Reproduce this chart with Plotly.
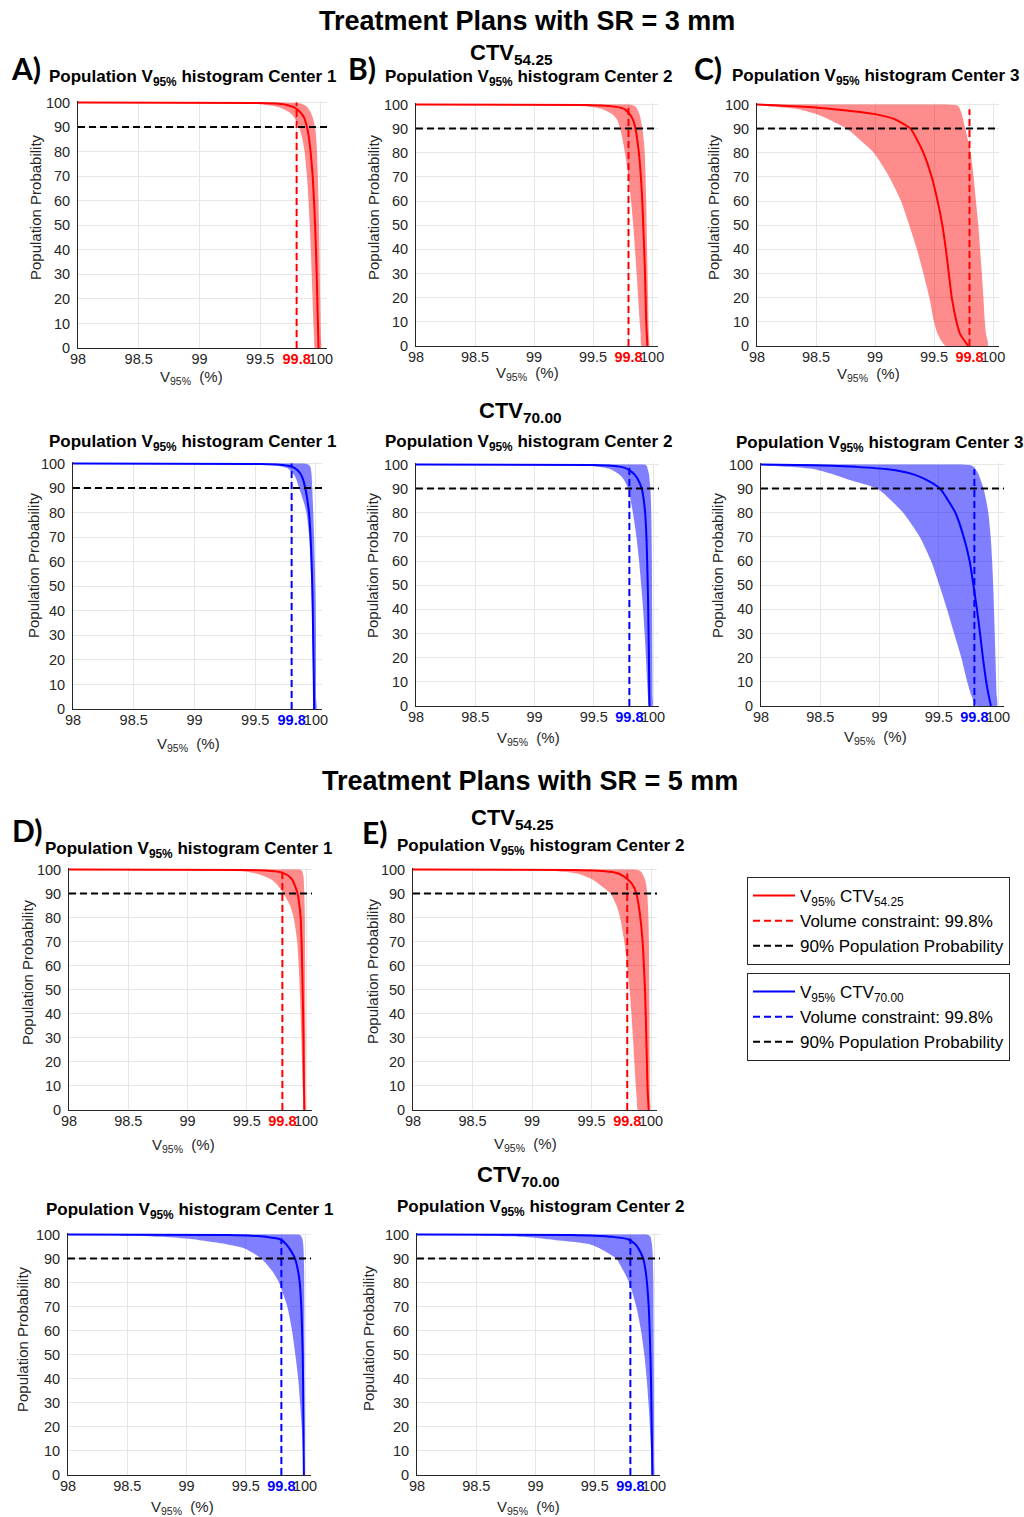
import plotly.graph_objects as go

W, H = 1024, 1517
FONT = "Liberation Sans, Arial, sans-serif"

# ---------------- data ----------------
# Population probability levels (%) at which each curve's V95% value is read
PROB = [100, 99.8, 99.5, 99, 98, 96, 94, 90, 85, 80, 70, 60, 50, 40, 30, 20, 10, 5, 0]

X_RANGE = [98, 100.05]
X_TICKS = [98, 98.5, 99, 99.5, 99.8, 100]
X_TICK_LABELS = ["98", "98.5", "99", "99.5", "99.8", "100"]
Y_TICKS = [0, 10, 20, 30, 40, 50, 60, 70, 80, 90, 100]
VOLUME_CONSTRAINT = 99.8
TARGET_PROBABILITY = 90

# SR = 3 mm, CTV54.25
sr3_ctv54_c1_median = [98, 99.5, 99.65, 99.72, 99.78, 99.83, 99.86, 99.885, 99.903, 99.915, 99.932, 99.943, 99.952, 99.959, 99.965, 99.97, 99.975, 99.978, 99.98]
sr3_ctv54_c1_lower = [98, 99.2, 99.42, 99.56, 99.66, 99.74, 99.78, 99.82, 99.848, 99.865, 99.885, 99.898, 99.908, 99.917, 99.924, 99.931, 99.938, 99.944, 99.95]
sr3_ctv54_c1_upper = [99.65, 99.8, 99.84, 99.865, 99.89, 99.915, 99.932, 99.952, 99.962, 99.968, 99.975, 99.98, 99.985, 99.988, 99.991, 99.994, 99.997, 99.999, 100]

sr3_ctv54_c2_median = [98, 99.45, 99.6, 99.7, 99.77, 99.81, 99.835, 99.86, 99.875, 99.888, 99.905, 99.917, 99.925, 99.933, 99.94, 99.945, 99.95, 99.955, 99.96]
sr3_ctv54_c2_lower = [98, 99.2, 99.35, 99.48, 99.58, 99.66, 99.7, 99.73, 99.752, 99.77, 99.8, 99.822, 99.84, 99.855, 99.869, 99.882, 99.895, 99.903, 99.91]
sr3_ctv54_c2_upper = [99.8, 99.83, 99.848, 99.862, 99.875, 99.892, 99.903, 99.918, 99.93, 99.938, 99.945, 99.95, 99.954, 99.958, 99.962, 99.966, 99.97, 99.972, 99.975]

sr3_ctv54_c3_median = [98, 98.1, 98.22, 98.4, 98.65, 99.0, 99.16, 99.3, 99.36, 99.41, 99.48, 99.53, 99.57, 99.6, 99.625, 99.65, 99.69, 99.72, 99.79]
sr3_ctv54_c3_lower = [97.9, 97.95, 98.05, 98.15, 98.35, 98.5, 98.6, 98.76, 98.88, 98.99, 99.12, 99.22, 99.29, 99.355, 99.41, 99.46, 99.5, 99.53, 99.6]
sr3_ctv54_c3_upper = [99.6, 99.68, 99.7, 99.71, 99.72, 99.735, 99.745, 99.765, 99.788, 99.81, 99.835, 99.855, 99.875, 99.89, 99.905, 99.918, 99.93, 99.94, 99.955]

# SR = 3 mm, CTV70.00
sr3_ctv70_c1_median = [98, 99.55, 99.7, 99.78, 99.83, 99.87, 99.89, 99.912, 99.93, 99.943, 99.956, 99.964, 99.97, 99.974, 99.977, 99.98, 99.983, 99.984, 99.985]
sr3_ctv70_c1_lower = [98, 99.45, 99.6, 99.7, 99.77, 99.81, 99.835, 99.862, 99.895, 99.922, 99.945, 99.956, 99.963, 99.968, 99.972, 99.975, 99.978, 99.979, 99.98]
sr3_ctv70_c1_upper = [99.9, 99.925, 99.94, 99.95, 99.958, 99.963, 99.966, 99.97, 99.974, 99.978, 99.985, 99.99, 99.995, 99.998, 100, 100, 100, 100, 100.005]

sr3_ctv70_c2_median = [98, 99.5, 99.65, 99.73, 99.79, 99.84, 99.87, 99.905, 99.922, 99.933, 99.944, 99.95, 99.955, 99.959, 99.962, 99.965, 99.967, 99.968, 99.97]
sr3_ctv70_c2_lower = [98, 99.3, 99.45, 99.55, 99.64, 99.71, 99.75, 99.79, 99.812, 99.83, 99.86, 99.882, 99.9, 99.916, 99.929, 99.94, 99.95, 99.956, 99.965]
sr3_ctv70_c2_upper = [99.92, 99.94, 99.945, 99.95, 99.955, 99.965, 99.97, 99.978, 99.982, 99.985, 99.988, 99.99, 99.991, 99.992, 99.993, 99.994, 99.995, 99.995, 99.995]

sr3_ctv70_c3_median = [98, 98.3, 98.6, 98.8, 99.07, 99.28, 99.38, 99.51, 99.58, 99.64, 99.71, 99.76, 99.792, 99.822, 99.848, 99.872, 99.9, 99.918, 99.94]
sr3_ctv70_c3_lower = [97.9, 97.95, 98.05, 98.25, 98.45, 98.6, 98.72, 98.98, 99.1, 99.2, 99.34, 99.435, 99.505, 99.57, 99.63, 99.69, 99.74, 99.77, 99.82]
sr3_ctv70_c3_upper = [99.7, 99.76, 99.78, 99.795, 99.81, 99.835, 99.85, 99.878, 99.9, 99.918, 99.938, 99.95, 99.959, 99.966, 99.972, 99.978, 99.984, 99.987, 99.99]

# SR = 5 mm, CTV54.25
sr5_ctv54_c1_median = [98, 99.5, 99.68, 99.77, 99.83, 99.88, 99.9, 99.928, 99.944, 99.954, 99.962, 99.967, 99.971, 99.975, 99.978, 99.98, 99.982, 99.984, 99.985]
sr5_ctv54_c1_lower = [98, 99.2, 99.38, 99.5, 99.6, 99.7, 99.75, 99.81, 99.865, 99.895, 99.925, 99.938, 99.947, 99.954, 99.96, 99.966, 99.972, 99.976, 99.98]
sr5_ctv54_c1_upper = [99.94, 99.955, 99.965, 99.97, 99.975, 99.98, 99.982, 99.985, 99.988, 99.99, 99.991, 99.992, 99.993, 99.994, 99.995, 99.995, 99.995, 99.995, 99.995]

sr5_ctv54_c2_median = [98, 99.35, 99.55, 99.66, 99.74, 99.8, 99.84, 99.877, 99.896, 99.91, 99.929, 99.94, 99.949, 99.955, 99.96, 99.965, 99.97, 99.975, 99.98]
sr5_ctv54_c2_lower = [98, 99.0, 99.15, 99.28, 99.4, 99.5, 99.56, 99.66, 99.71, 99.74, 99.775, 99.8, 99.82, 99.835, 99.848, 99.86, 99.872, 99.88, 99.89]
sr5_ctv54_c2_upper = [99.86, 99.89, 99.905, 99.918, 99.93, 99.948, 99.958, 99.968, 99.974, 99.978, 99.982, 99.984, 99.985, 99.987, 99.988, 99.989, 99.99, 99.99, 99.99]

# SR = 5 mm, CTV70.00
sr5_ctv70_c1_median = [98, 99.35, 99.55, 99.67, 99.79, 99.84, 99.87, 99.915, 99.94, 99.955, 99.968, 99.975, 99.98, 99.983, 99.985, 99.987, 99.988, 99.989, 99.99]
sr5_ctv70_c1_lower = [98, 98.3, 98.5, 98.8, 99.05, 99.33, 99.5, 99.63, 99.72, 99.78, 99.85, 99.89, 99.918, 99.942, 99.958, 99.972, 99.982, 99.986, 99.99]
sr5_ctv70_c1_upper = [99.94, 99.955, 99.965, 99.97, 99.978, 99.984, 99.987, 99.99, 99.992, 99.993, 99.994, 99.994, 99.995, 99.995, 99.995, 99.995, 99.995, 99.995, 99.995]

sr5_ctv70_c2_median = [98, 99.3, 99.5, 99.65, 99.78, 99.84, 99.87, 99.908, 99.928, 99.94, 99.955, 99.963, 99.969, 99.974, 99.977, 99.98, 99.983, 99.984, 99.985]
sr5_ctv70_c2_lower = [98.1, 98.4, 98.6, 98.9, 99.1, 99.45, 99.55, 99.68, 99.74, 99.79, 99.85, 99.89, 99.918, 99.938, 99.953, 99.965, 99.975, 99.98, 99.985]
sr5_ctv70_c2_upper = [99.93, 99.95, 99.96, 99.97, 99.975, 99.982, 99.986, 99.99, 99.992, 99.994, 99.995, 99.996, 99.997, 99.998, 99.999, 100, 100, 100, 100]

# height reached by the dashed volume-constraint marker in each panel
CONSTRAINT_TOP = [100, 98.6, 98, 100, 99, 98, 99, 98.3, 98.3, 98.3]
CENTERS = [1, 2, 3, 1, 2, 3, 1, 2, 1, 2]

# ---------------- styling / layout ----------------
RED, BLUE = "#FF0000", "#0000FF"
RED_FILL, BLUE_FILL = "rgba(255,0,0,0.45)", "rgba(0,0,255,0.5)"
DASH = "7px,4px"

PANELS = [
    (sr3_ctv54_c1_median, sr3_ctv54_c1_lower, sr3_ctv54_c1_upper, "ctv54"),
    (sr3_ctv54_c2_median, sr3_ctv54_c2_lower, sr3_ctv54_c2_upper, "ctv54"),
    (sr3_ctv54_c3_median, sr3_ctv54_c3_lower, sr3_ctv54_c3_upper, "ctv54"),
    (sr3_ctv70_c1_median, sr3_ctv70_c1_lower, sr3_ctv70_c1_upper, "ctv70"),
    (sr3_ctv70_c2_median, sr3_ctv70_c2_lower, sr3_ctv70_c2_upper, "ctv70"),
    (sr3_ctv70_c3_median, sr3_ctv70_c3_lower, sr3_ctv70_c3_upper, "ctv70"),
    (sr5_ctv54_c1_median, sr5_ctv54_c1_lower, sr5_ctv54_c1_upper, "ctv54"),
    (sr5_ctv54_c2_median, sr5_ctv54_c2_lower, sr5_ctv54_c2_upper, "ctv54"),
    (sr5_ctv70_c1_median, sr5_ctv70_c1_lower, sr5_ctv70_c1_upper, "ctv70"),
    (sr5_ctv70_c2_median, sr5_ctv70_c2_lower, sr5_ctv70_c2_upper, "ctv70"),
]

# plot-area boxes in pixels: left, right, top, bottom
BOXES = [
    (78, 327, 101, 348), (416, 658, 103, 346), (757, 999, 103, 346),
    (73, 322, 462, 709), (416, 659, 463, 706), (761, 1004, 463, 706),
    (69, 312, 868, 1110), (413, 657, 868, 1110),
    (68, 311, 1233, 1475), (417, 660, 1233, 1475),
]
TITLE_POS = [(192, 78), (528, 78), (875, 77), (192, 443), (528, 443), (879, 444),
             (188, 850), (540, 847), (189, 1211), (540, 1208)]
YTITLE_POS = [(35, 207), (373, 207), (713, 207), (33, 565), (372, 565), (717, 565),
              (27, 972), (372, 971), (22, 1339), (368, 1338)]
XTITLE_POS = [(191, 377), (527, 373), (868, 375), (188, 744), (528, 739), (875, 737),
              (183, 1145), (525, 1144), (182, 1507), (528, 1507)]


def px(x):
    return x / W


def py(y):
    return 1 - y / H


fig = go.Figure()
layout_axes = {}
annotations = []
SMOOTH = dict(shape="spline", smoothing=0.6)

for i, (med, lo, hi, ctv) in enumerate(PANELS):
    n = "" if i == 0 else str(i + 1)
    xa, ya = "x" + n, "y" + n
    color = RED if ctv == "ctv54" else BLUE
    fill = RED_FILL if ctv == "ctv54" else BLUE_FILL
    leg = "legend" if ctv == "ctv54" else "legend2"
    show = i in (0, 3)
    sub = "54.25" if ctv == "ctv54" else "70.00"

    fig.add_trace(go.Scatter(
        x=lo + hi[::-1], y=PROB + PROB[::-1], fill="toself", fillcolor=fill,
        mode="lines", line=dict(width=0, **SMOOTH),
        showlegend=False, hoverinfo="skip", xaxis=xa, yaxis=ya))
    fig.add_trace(go.Scatter(
        x=med, y=PROB, mode="lines", line=dict(color=color, width=2, **SMOOTH),
        name=f"V<sub>95%</sub> CTV<sub>{sub}</sub>", legend=leg, showlegend=show,
        xaxis=xa, yaxis=ya))
    fig.add_trace(go.Scatter(
        x=[VOLUME_CONSTRAINT, VOLUME_CONSTRAINT], y=[0, CONSTRAINT_TOP[i]], mode="lines",
        line=dict(color=color, width=2, dash=DASH),
        name=f"Volume constraint: {VOLUME_CONSTRAINT}%", legend=leg, showlegend=show,
        xaxis=xa, yaxis=ya))
    fig.add_trace(go.Scatter(
        x=X_RANGE, y=[TARGET_PROBABILITY, TARGET_PROBABILITY], mode="lines",
        line=dict(color="black", width=2, dash=DASH),
        name=f"{TARGET_PROBABILITY}% Population Probability", legend=leg, showlegend=show,
        xaxis=xa, yaxis=ya))

    l, r, t, b = BOXES[i]
    ticktext = [
        (f"<b><span style='color:{color}'>{lab}</span></b>" if v == VOLUME_CONSTRAINT else lab)
        for v, lab in zip(X_TICKS, X_TICK_LABELS)
    ]
    layout_axes["xaxis" + n] = dict(
        domain=[px(l), px(r)], anchor=ya, range=X_RANGE, tickvals=X_TICKS, ticktext=ticktext,
        tickangle=0, automargin=False,
        showgrid=True, gridcolor="#E6E6E6", gridwidth=1, zeroline=False,
        showline=True, linecolor="#262626", linewidth=1, ticks="",
        tickfont=dict(size=14.5, family=FONT, color="#262626"), ticklabelstandoff=-2)
    layout_axes["yaxis" + n] = dict(
        domain=[py(b), py(t)], anchor=xa, range=[0, 100.6], tickvals=Y_TICKS,
        automargin=False,
        showgrid=True, gridcolor="#E6E6E6", gridwidth=1, zeroline=False,
        showline=True, linecolor="#262626", linewidth=1, ticks="",
        tickfont=dict(size=14.5, family=FONT, color="#262626"), ticklabelstandoff=4)

    tx, ty = TITLE_POS[i]
    annotations.append(dict(
        x=px(tx), y=py(ty), xref="paper", yref="paper", xanchor="center", yanchor="middle",
        text=f"<b>Population V<sub>95%</sub> histogram Center {CENTERS[i]}</b>",
        showarrow=False, font=dict(size=17, family=FONT, color="black")))
    yx, yy = YTITLE_POS[i]
    annotations.append(dict(
        x=px(yx), y=py(yy), xref="paper", yref="paper", xanchor="center", yanchor="middle",
        text="Population Probability", textangle=-90, showarrow=False,
        font=dict(size=15, family=FONT, color="#262626")))
    xx, xy = XTITLE_POS[i]
    annotations.append(dict(
        x=px(xx), y=py(xy), xref="paper", yref="paper", xanchor="center", yanchor="middle",
        text="V<sub>95%</sub>\u00a0\u00a0(%)", showarrow=False,
        font=dict(size=15, family=FONT, color="#262626")))

# section headers
for text, x, y, size in [
    ("<b>Treatment Plans with SR = 3 mm</b>", 527, 21, 27),
    ("<b>Treatment Plans with SR = 5 mm</b>", 530, 781, 27),
    ("<b>CTV<sub>54.25</sub></b>", 511, 54, 22),
    ("<b>CTV<sub>70.00</sub></b>", 520, 412, 22),
    ("<b>CTV<sub>54.25</sub></b>", 512, 819, 22),
    ("<b>CTV<sub>70.00</sub></b>", 518, 1176, 22),
]:
    annotations.append(dict(
        x=px(x), y=py(y), xref="paper", yref="paper", xanchor="center", yanchor="middle",
        text=text, showarrow=False, font=dict(size=size, family=FONT, color="black")))

for text, x, y in [("A)", 26, 68), ("B)", 362, 68), ("C)", 708, 68), ("D)", 27, 830), ("E)", 375, 832)]:
    annotations.append(dict(
        x=px(x), y=py(y), xref="paper", yref="paper", xanchor="center", yanchor="middle",
        text=f"<b>{text}</b>", showarrow=False, font=dict(size=30, family="Lato, " + FONT, color="black")))

legend_style = dict(
    xanchor="left", yanchor="top", bordercolor="#262626", borderwidth=1, bgcolor="white",
    font=dict(size=17, family=FONT, color="black"), tracegroupgap=0, itemwidth=42)

fig.update_layout(
    width=W, height=H, autosize=False,
    margin=dict(l=0, r=0, t=0, b=0, pad=0, autoexpand=False),
    paper_bgcolor="white", plot_bgcolor="white",
    font=dict(family=FONT, color="#262626"),
    annotations=annotations,
    legend=dict(x=px(747), y=py(877), **legend_style),
    legend2=dict(x=px(747), y=py(973), **legend_style),
    **layout_axes,
)

fig.write_html(
    "out.html",
    config={"displayModeBar": False},
    post_script="document.body.style.margin='0px';document.body.style.padding='0px';",
)
